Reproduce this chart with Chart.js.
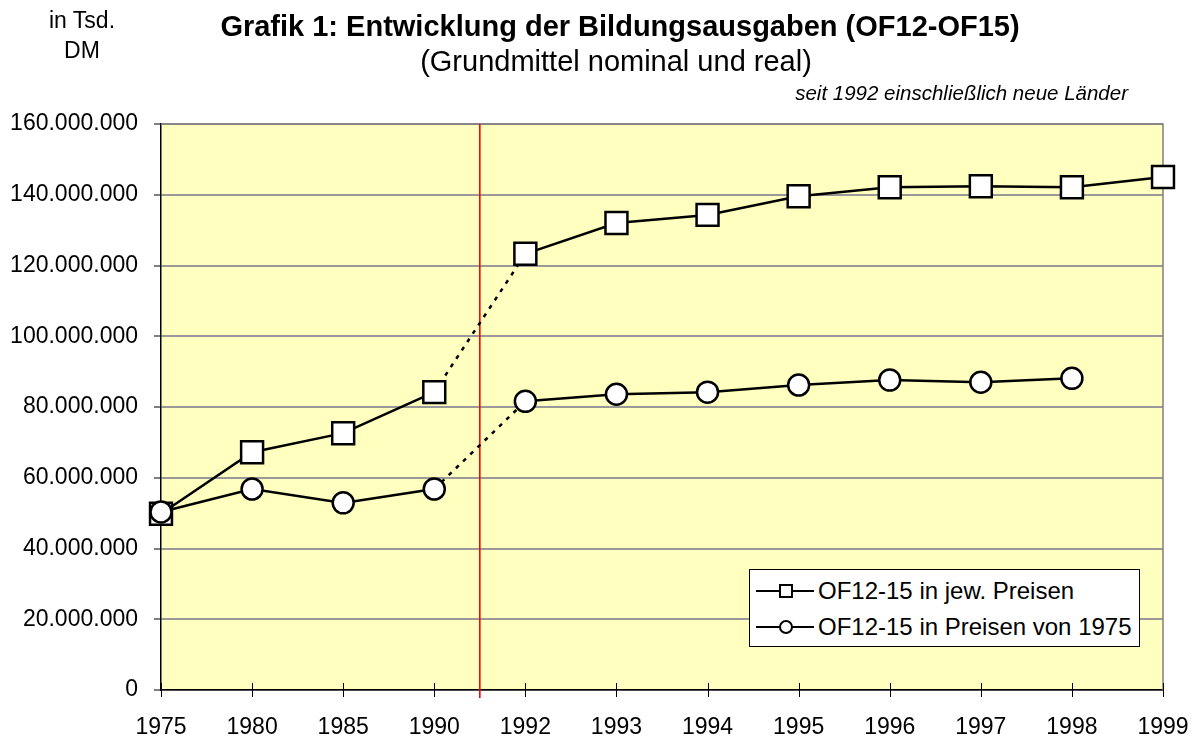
<!DOCTYPE html>
<html>
<head>
<meta charset="utf-8">
<script src="https://cdn.jsdelivr.net/npm/chart.js@4/dist/chart.umd.min.js"></script>
<style>
  html, body { margin:0; padding:0; background:#fff; }
  body { width:1198px; height:742px; position:relative; overflow:hidden; font-family:"Liberation Sans", Arial, sans-serif; color:#000; }
  #c { position:absolute; left:0; top:0; }
  .t { position:absolute; white-space:nowrap; }
  #unit { left:32px; top:5px; width:100px; text-align:center; font-size:23px; line-height:30px; }
  #title { left:0; width:1240px; top:9px; text-align:center; font-size:29px; font-weight:bold; line-height:34px; }
  #subtitle { left:0; width:1232px; top:44px; text-align:center; font-size:29px; line-height:34px; }
  #note { right:70px; top:80px; font-size:20.5px; font-style:italic; line-height:26px; }
  #legend { position:absolute; left:749px; top:569px; width:389px; height:76px; border:1px solid #000; background:#fff; }
  .row { position:absolute; left:0; height:36px; width:100%; }
  .sym { position:absolute; left:6px; top:17px; width:58px; height:2px; background:#000; }
  .mk { position:absolute; left:23px; top:-6px; width:10px; height:10px; border:2px solid #000; background:#fff; }
  .mk.circle { border-radius:50%; }
  .lt { position:absolute; left:68px; top:0; font-size:24px; line-height:36px; }
</style>
</head>
<body>
<canvas id="c" width="1198" height="742"></canvas>
<div class="t" id="unit">in Tsd.<br>DM</div>
<div class="t" id="title">Grafik 1: Entwicklung der Bildungsausgaben (OF12-OF15)</div>
<div class="t" id="subtitle">(Grundmittel nominal und real)</div>
<div class="t" id="note">seit 1992 einschließlich neue Länder</div>
<div id="legend"></div>
<script>
const categories = ['1975','1980','1985','1990','1992','1993','1994','1995','1996','1997','1998','1999'];
const nominalValues = [49.8e6, 67.2e6, 72.6e6, 84.2e6, 123.3e6, 132.0e6, 134.3e6, 139.6e6, 142.1e6, 142.4e6, 142.1e6, 145.0e6];
const realValues = [50.3e6, 56.8e6, 52.9e6, 56.8e6, 81.6e6, 83.6e6, 84.2e6, 86.2e6, 87.6e6, 87.0e6, 88.1e6, null];
const seriesNames = ['OF12-15 in jew. Preisen', 'OF12-15 in Preisen von 1975'];
const yTicks = [0, 20e6, 40e6, 60e6, 80e6, 100e6, 120e6, 140e6, 160e6];
const breakAfterIndex = 3; // gap between 1990 and 1992

const FONT = '"Liberation Sans", Arial, sans-serif';
function fmt(v){ return String(Math.round(v)).replace(/\B(?=(\d{3})+(?!\d))/g, '.'); }

const dashSeg = { borderDash: ctx => ctx.p0DataIndex === breakAfterIndex ? [4, 6] : undefined };

const decor = {
  id: 'decor',
  beforeDraw(chart){
    const {ctx, chartArea:a} = chart;
    ctx.save();
    ctx.fillStyle = '#FFFFC0';
    ctx.fillRect(a.left, a.top, a.right - a.left, a.bottom - a.top);
    ctx.restore();
  },
  beforeDatasetsDraw(chart){
    const {ctx, chartArea:a, scales} = chart;
    ctx.save();
    ctx.strokeStyle = '#808080';
    ctx.lineWidth = 1.5;
    ctx.beginPath();
    ctx.moveTo(a.left, a.top); ctx.lineTo(a.right, a.top); ctx.lineTo(a.right, a.bottom);
    ctx.stroke();
    ctx.strokeStyle = '#000';
    ctx.lineWidth = 1;
    categories.forEach((c, i) => {
      const px = Math.round(scales.x.getPixelForValue(i)) + 0.5;
      ctx.beginPath(); ctx.moveTo(px, a.bottom - 7); ctx.lineTo(px, a.bottom + 7); ctx.stroke();
    });
    const x = scales.x.getPixelForValue(breakAfterIndex + 0.5);
    ctx.strokeStyle = '#FF0000';
    ctx.lineWidth = 1.6;
    ctx.beginPath();
    ctx.moveTo(x, a.top); ctx.lineTo(x, a.bottom + 8);
    ctx.stroke();
    ctx.restore();
  }
};

new Chart(document.getElementById('c'), {
  type: 'line',
  data: {
    labels: categories,
    datasets: [
      { label: seriesNames[0], data: nominalValues, order: 1,
        borderColor:'#000', borderWidth:2.5, backgroundColor:'#fff',
        pointStyle:'rect', pointRadius:15.5, pointBorderWidth:2.5, pointBackgroundColor:'#fff', pointBorderColor:'#000',
        segment: dashSeg, tension:0 },
      { label: seriesNames[1], data: realValues, order: 0,
        borderColor:'#000', borderWidth:2.5, backgroundColor:'#fff',
        pointStyle:'circle', pointRadius:10.5, pointBorderWidth:2.5, pointBackgroundColor:'#fff', pointBorderColor:'#000',
        segment: dashSeg, tension:0 }
    ]
  },
  options: {
    responsive:false, animation:false, devicePixelRatio:1,
    layout: { padding: { top:124, right:35, left:0, bottom:0 } },
    plugins: { legend:{display:false}, tooltip:{enabled:false}, title:{display:false} },
    scales: {
      x: {
        type:'category', offset:false,
        grid:{ display:true, drawOnChartArea:false, drawTicks:false, tickLength:0 },
        border:{ color:'#000', width:1.5 },
        ticks:{ color:'#000', font:{family:FONT, size:23}, padding:24, maxRotation:0, autoSkip:false },
        afterFit(s){ s.height = 52; s.paddingLeft = 0; s.paddingRight = 0; }
      },
      y: {
        min:0, max:160e6,
        afterBuildTicks(s){ s.ticks = yTicks.map(v => ({value:v})); },
        grid:{ color:'#999', lineWidth:2, tickColor:'#000', tickLength:7, tickWidth:1 },
        border:{ color:'#000', width:1.5 },
        ticks:{ color:'#000', font:{family:FONT, size:23}, padding:16, callback: v => fmt(v) },
        afterFit(s){ s.width = 161; }
      }
    }
  },
  plugins: [decor]
});

const lg = document.getElementById('legend');
seriesNames.forEach((name, i) => {
  const row = document.createElement('div');
  row.className = 'row';
  row.style.top = (i === 0 ? 3 : 39) + 'px';
  row.innerHTML = '<div class="sym"><div class="mk' + (i === 1 ? ' circle' : '') + '"></div></div><div class="lt"></div>';
  row.querySelector('.lt').textContent = name;
  lg.appendChild(row);
});
</script>
</body>
</html>
